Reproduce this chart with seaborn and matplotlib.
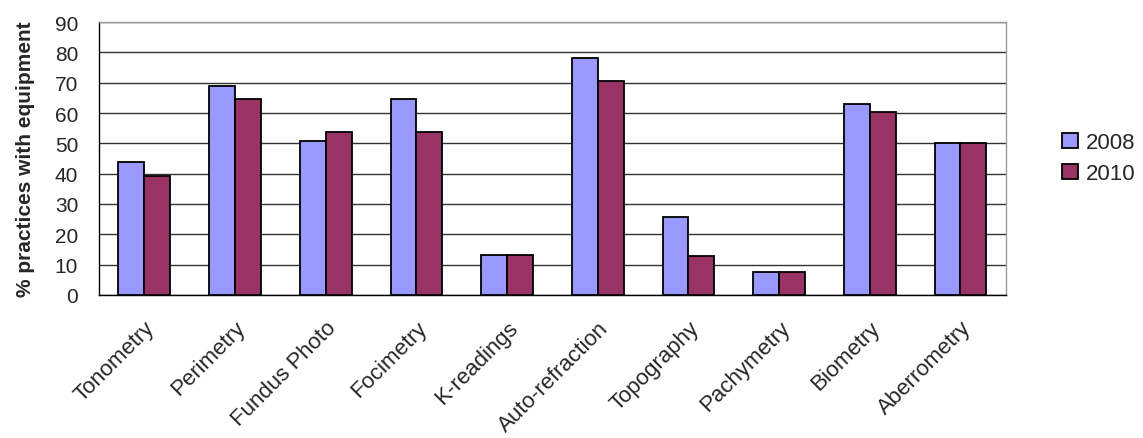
import numpy as np
import pandas as pd
import seaborn as sns
import matplotlib.pyplot as plt

# 데이터
categories = ["Tonometry", "Perimetry", "Fundus Photo", "Focimetry", "K-readings",
              "Auto-refraction", "Topography", "Pachymetry", "Biometry", "Aberrometry"]
values_2008 = [43.8, 69.0, 50.7, 64.5, 13.3, 78.3, 25.6, 7.5, 63.0, 50.0]
values_2010 = [39.2, 64.5, 53.7, 53.7, 13.3, 70.7, 12.8, 7.5, 60.2, 50.0]
years = ["2008", "2010"]

df = pd.DataFrame({
    "category": categories * 2,
    "year": [years[0]] * len(categories) + [years[1]] * len(categories),
    "value": values_2008 + values_2010,
})

sns.set_style("white")
plt.rcParams["font.family"] = ["Liberation Sans", "DejaVu Sans"]

fig = plt.figure(figsize=(11.43, 4.39), dpi=100)
ax = fig.add_axes([0.0866, 0.326, 0.7934, 0.6214])

sns.barplot(data=df, x="category", y="value", hue="year", order=categories,
            hue_order=years, palette=["#9999FF", "#993366"], width=0.57, gap=0,
            edgecolor="black", linewidth=1.3, saturation=1, ax=ax, zorder=3)

ax.set_ylim(0, 90)
ax.set_yticks(range(0, 91, 10))
ax.set_xlim(-0.5, len(categories) - 0.5)
ax.yaxis.grid(True, color="#333333", linewidth=1.0, zorder=0)
ax.set_axisbelow(True)

# 범주 경계 눈금
ax.set_xticks(np.arange(len(categories)))
ax.set_xticklabels(categories, rotation=45, ha="right", rotation_mode="anchor", fontsize=16)
ax.set_xticks(np.arange(-0.5, len(categories)), minor=True)
ax.tick_params(axis="x", which="major", length=0, pad=16)
ax.tick_params(axis="x", which="minor", length=6, width=1, color="black", direction="out")
ax.tick_params(axis="y", length=6, width=1, color="black", direction="out", labelsize=15, pad=9)

for side in ["left", "bottom"]:
    ax.spines[side].set_color("black")
    ax.spines[side].set_linewidth(1.0)
for side in ["top", "right"]:
    ax.spines[side].set_color("#999999")
    ax.spines[side].set_linewidth(1.0)

ax.set_xlabel("")
ax.set_ylabel("% practices with equipment", fontsize=15, fontweight="bold", labelpad=14)

ax.legend(loc="center left", bbox_to_anchor=(1.04, 0.5), frameon=False, fontsize=16,
          handlelength=0.7, handleheight=0.7, handletextpad=0.35, labelspacing=0.45)

plt.savefig("out.png", dpi=100)
